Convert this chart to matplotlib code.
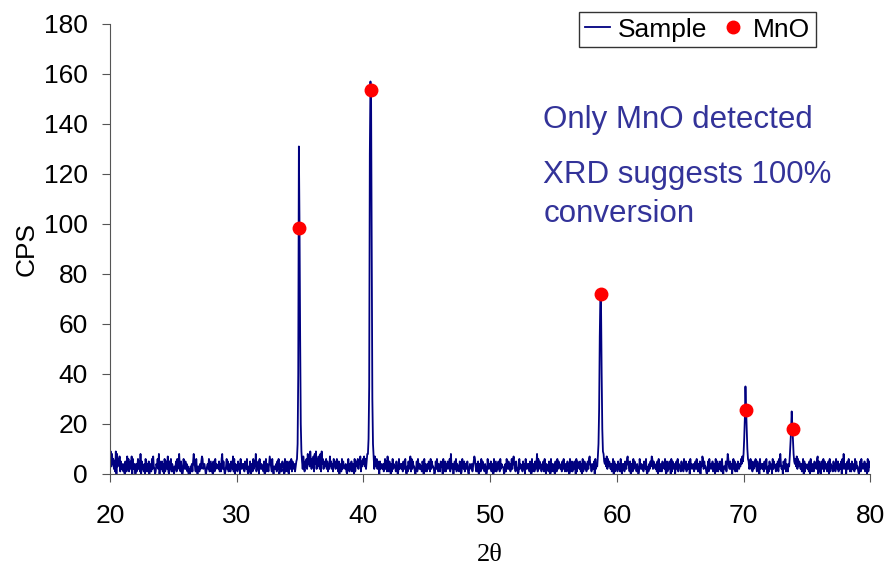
import matplotlib.pyplot as plt
import numpy as np

plt.rcParams['font.family'] = ['Liberation Sans', 'DejaVu Sans']

# XRD scan, 20-80 deg 2theta in 0.05 deg steps: baseline counts, one row per degree
baseline_rows = [
    "7938462519 0836471524",  # 20
    "2140531726 1352706243",  # 21
    "0413625180 5231406314",  # 22
    "1504316273 2014362805",  # 23
    "3251406135 2710526143",  # 24
    "1032516248 3152016325",  # 25
    "2413020314 1584316203",  # 26
    "3142576234 2013426135",  # 27
    "1405316243 3251416825",  # 28
    "2013625143 1532716043",  # 29
    "3152406234 2415326103",  # 30
    "1504316253 8142506324",  # 31
    "2315026143 1475316203",  # 32
    "3241526014 2153406145",  # 33
    "1405326153 2413562647",  # 34
    "4635274153 6284739526",  # 35
    "3718492637 5281946253",  # 36
    "3625142735 2416352463",  # 37
    "1504316253 3241026314",  # 38
    "2513406145 3625471536",  # 39
    "4736258463 5264835273",  # 40
    "4625305243 2413625173",  # 41
    "1530416243 3152016234",  # 42
    "2415326103 1524716253",  # 43
    "3102516324 2315406143",  # 44
    "1425316253 3201526314",  # 45
    "2153406145 1425326183",  # 46
    "2403526143 3152016325",  # 47
    "1432510243 2413576314",  # 48
    "1504316253 3142016234",  # 49
    "2513406135 1425316243",  # 50
    "3201416325 2413625743",  # 51
    "1532016243 3152406234",  # 52
    "2415306143 1524816253",  # 53
    "3142516304 2315406143",  # 54
    "1405316253 3241526314",  # 55
    "2153406145 1425306153",  # 56
    "3251406135 2413526743",  # 57
    "1432506243 3526453748",  # 58
    "5463726354 2413605143",  # 59
    "3152416204 2415326743",  # 60
    "1504316253 3142016324",  # 61
    "2315426103 1425376253",  # 62
    "3241506314 2153426105",  # 63
    "1425306153 2403526143",  # 64
    "3152416325 1432506243",  # 65
    "2413526314 1504376253",  # 66
    "3102516234 2513406135",  # 67
    "1425316203 3251486325",  # 68
    "2403625143 1532436475",  # 69
    "6574836452 3625142536",  # 70
    "3152406234 2415326103",  # 71
    "1524306253 3142516384",  # 72
    "2305426143 1435263748",  # 73
    "5463726354 2413605143",  # 74
    "3241506314 2153426705",  # 75
    "1405326153 2413506143",  # 76
    "3152416325 1432506283",  # 77
    "2403526314 1524316253",  # 78
    "3102516234 2513406135",  # 79
    "3",                      # 80
]
two_theta_start = 20.0
two_theta_step = 0.05

# peak region counts (replace baseline at these angles)
peak_x = [34.75, 34.80, 34.85, 34.90, 34.95, 35.00, 35.05, 35.10,
          40.35, 40.40, 40.45, 40.50, 40.55, 40.60, 40.65, 40.70, 40.75, 40.80,
          58.50, 58.55, 58.60, 58.65, 58.70, 58.75, 58.80, 58.85, 58.90,
          70.00, 70.05, 70.10, 70.15, 70.20, 70.25, 70.30, 70.35,
          73.65, 73.70, 73.75, 73.80, 73.85, 73.90, 73.95]
peak_cps = [6, 12, 40, 131, 100, 55, 20, 9,
            8, 14, 35, 128, 157, 150, 85, 30, 12, 7,
            7, 12, 26, 55, 72, 68, 40, 18, 9,
            8, 14, 22, 35, 26, 18, 10, 6,
            7, 12, 17, 25, 19, 14, 8]

# MnO reference markers
mno_x = [34.92, 40.6, 58.72, 70.22, 73.87]
mno_cps = [98.5, 153.5, 72.0, 25.5, 18.0]

cps = np.array([int(c) for row in baseline_rows for c in row if c.isdigit()],
               dtype=float)
two_theta = two_theta_start + two_theta_step * np.arange(len(cps))
for px, pv in zip(peak_x, peak_cps):
    idx = int(round((px - two_theta_start) / two_theta_step))
    cps[idx] = pv

fig = plt.figure(figsize=(8.88, 5.71), dpi=100)
ax = fig.add_axes([0.124, 0.170, 0.856, 0.788])

ax.plot(two_theta, cps, color='#000080', lw=1.3, label='Sample')
ax.plot(mno_x, mno_cps, 'o', color='#ff0000', ms=9, ls='none', label='MnO')

ax.set_xlim(20, 80)
ax.set_ylim(0, 180)
ax.set_xticks(range(20, 81, 10))
ax.set_yticks(range(0, 181, 20))
ax.tick_params(labelsize=19, direction='out', length=6, color='#555555')
ax.tick_params(axis='x', pad=16)
ax.tick_params(axis='y', pad=10)
ax.spines['top'].set_visible(False)
ax.spines['right'].set_visible(False)
ax.spines['left'].set_color('#555555')
ax.spines['bottom'].set_color('#555555')

ax.set_ylabel('CPS', fontsize=19, labelpad=4)
ax.set_xlabel('2\u03b8', fontsize=19, family='Liberation Serif', labelpad=11)

note_color = '#333399'
ax.text(54.18, 138.4, 'Only MnO detected', fontsize=22.5, color=note_color,
        ha='left', va='baseline')
ax.text(54.18, 116.4, 'XRD suggests 100%', fontsize=22.5, color=note_color,
        ha='left', va='baseline')
ax.text(54.18, 100.8, 'conversion', fontsize=22.5, color=note_color,
        ha='left', va='baseline')

leg = ax.legend(loc='upper right', bbox_to_anchor=(0.929, 1.027), ncol=2,
                fontsize=19, frameon=True, fancybox=False, edgecolor='black',
                handlelength=0.95, handletextpad=0.3, columnspacing=0.5,
                borderpad=0.22, borderaxespad=0)
leg.get_frame().set_linewidth(1.0)

fig.savefig('out.png', dpi=100)
